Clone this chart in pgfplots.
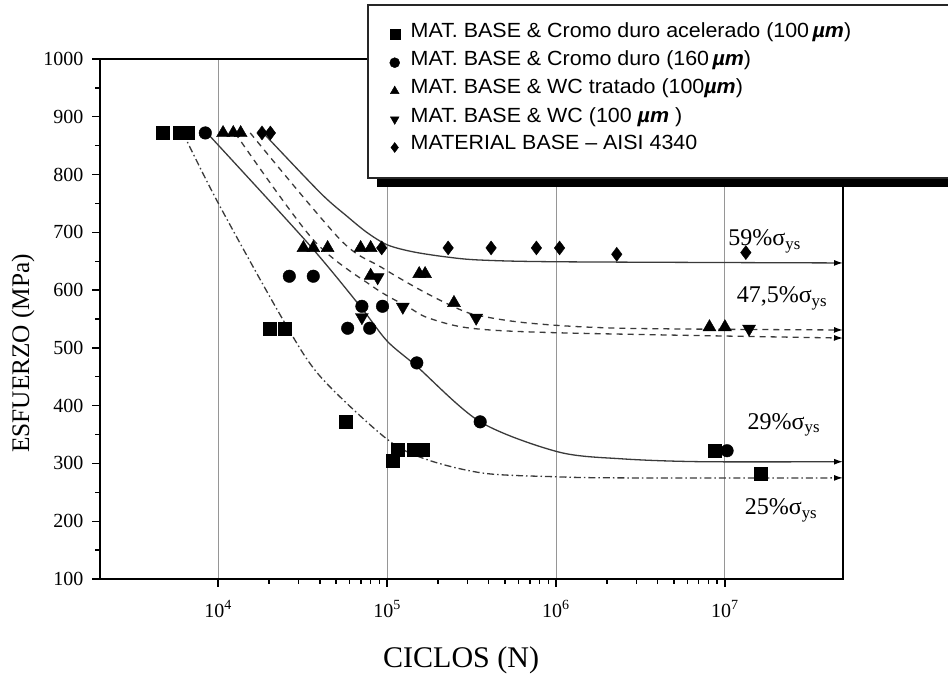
\documentclass[border=0pt]{standalone}
\usepackage{fontspec}
\setmainfont{Liberation Serif}
\newfontfamily\arial[FakeStretch=1.045]{Liberation Sans}
\usepackage{pgfplots}
\pgfplotsset{compat=1.18}
\usetikzlibrary{arrows.meta,shadows}

\definecolor{curv}{HTML}{3A3A3A}
\definecolor{gridc}{HTML}{969696}

\pgfplotsset{
  fitline/.style={curv,line width=1.3pt,smooth,tension=0.5,forget plot,
    -{Latex[length=9pt,width=6pt,black]}},
}

\begin{document}
\begin{tikzpicture}[x=1pt,y=1pt]
\begin{axis}[
  set layers,
  at={(100pt,96pt)}, anchor=south west,
  scale only axis, width=743pt, height=520pt,
  xmode=log, xmin=2000, xmax=5e7,
  ymin=100, ymax=1000,
  ytick={100,200,...,1000}, minor y tick num=1,
  xtick={1e4,1e5,1e6,1e7},
  xticklabels={10\textsuperscript{4},10\textsuperscript{5},10\textsuperscript{6},10\textsuperscript{7}},
  xtick pos=bottom, ytick pos=left,
  tick align=outside,
  major tick length=8pt, minor tick length=5pt,
  tick style={line width=1.4pt,black},
  axis line style={line width=2pt},
  xmajorgrids, major x grid style={gridc,line width=0.9pt},
  ticklabel style={font=\fontsize{20}{24}\selectfont},
  yticklabel style={xshift=-5pt},
  xticklabel style={yshift=-10pt},
  /pgf/number format/assume math mode=true,
  /pgf/number format/1000 sep={},
  xlabel={CICLOS (N)},
  ylabel={ESFUERZO (MPa)},
  xlabel style={font=\fontsize{30}{34}\selectfont,at={(axis description cs:0.486,-0.156)},anchor=center},
  ylabel style={font=\fontsize{25.3}{29}\selectfont,at={(axis description cs:-0.1036,0.434)},anchor=center},
  clip=false,
  legend cell align=left,
  legend image code/.code={
    \pgfpathmoveto{\pgfpoint{0pt}{0pt}}\pgfpathlineto{\pgfpoint{38pt}{0pt}}\pgfusepath{discard}
    \draw[#1,mark size=5pt] plot coordinates {(24pt,-4pt)};},
  legend style={at={(axis description cs:0.3641,1.1039)},anchor=north west,
    draw=none,fill=none,
    font=\arial\fontsize{20.5}{24}\selectfont,
    row sep=8pt,inner xsep=0pt,inner ysep=15pt},
]
% ---- experimental points ----
\addplot[only marks,mark=square*,mark size=6.5pt,black] coordinates {
  (4700,872) (5900,872) (6600,872) (20100,533) (24700,533) (57000,372)
  (108000,304) (116000,323) (144000,323) (163000,323) (8700000,322) (16200000,282)};
\addlegendentry{MAT. BASE \& Cromo duro acelerado (100\,{\bfseries\itshape µm})}
\addplot[only marks,mark=*,mark size=6.3pt,black] coordinates {
  (8400,872) (26400,624) (36600,624) (71000,572) (94000,572) (58500,534)
  (79000,534) (150000,474) (356000,372) (10300000,322)};
\addlegendentry{MAT. BASE \& Cromo duro (160\,{\bfseries\itshape µm})}
\addplot[only marks,mark=triangle*,mark size=7.5pt,black] coordinates {
  (10700,872) (12300,872) (13600,872) (32000,673) (36600,673) (44500,673)
  (69800,673) (80000,673) (80000,625) (155000,628) (168000,628)
  (249000,578) (8100000,536) (10000000,536)};
\addlegendentry{MAT. BASE \& WC tratado (100{\bfseries\itshape µm})}
\addplot[only marks,mark=triangle*,mark size=7.5pt,mark options={rotate=180},black] coordinates {
  (88000,622) (71000,553) (124000,571) (337000,552) (13900000,533)};
\addlegendentry{MAT. BASE \& WC (100 {\bfseries\itshape µm} )}
\addplot[only marks,mark=diamond*,mark size=7pt,black] coordinates {
  (18200,872) (20400,872) (93000,673) (230000,673) (413000,673) (766000,673)
  (1050000,673) (2290000,662) (13300000,665)};
\addlegendentry{MATERIAL BASE – AISI 4340}
% ---- fitted curves ----
\addplot[fitline,dash pattern=on 7pt off 3pt on 1.5pt off 3pt] coordinates {
  (6200,872) (10000,751) (24300,548) (40400,450) (101000,341) (175000,306)
  (376000,283) (980000,277) (2450000,275) (5e7,275)};
\addplot[fitline] coordinates {
  (8600,872) (33800,682) (69800,571) (100000,512) (150000,468) (356000,372)
  (1030000,320) (2450000,308) (7300000,303) (5e7,303)};
\addplot[fitline] coordinates {
  (18500,872) (40400,768) (58400,727) (76700,699) (101000,678) (144000,666)
  (230000,657) (360000,652) (1080000,649) (5e7,647)};
\addplot[fitline,dash pattern=on 6pt off 5pt] coordinates {
  (12600,872) (36600,687) (83400,605) (133000,571) (175000,552) (314000,534)
  (1080000,526) (5e7,517)};
\addplot[fitline,dash pattern=on 6pt off 5pt] coordinates {
  (15500,872) (53000,687) (92000,640) (158000,600) (249000,571) (337000,557)
  (686000,543) (2450000,534) (5e7,531)};
% ---- curve labels ----
\node[anchor=west,font=\fontsize{24}{28}\selectfont] at (axis cs:1.0e7,685) {59\%σ\textsubscript{ys}};
\node[anchor=west,font=\fontsize{24}{28}\selectfont] at (axis cs:1.12e7,586) {47,5\%σ\textsubscript{ys}};
\node[anchor=west,font=\fontsize{24}{28}\selectfont] at (axis cs:1.30e7,367) {29\%σ\textsubscript{ys}};
\node[anchor=west,font=\fontsize{24}{28}\selectfont] at (axis cs:1.25e7,219) {25\%σ\textsubscript{ys}};
% legend frame (white box with a black shadow), under the legend entries
\draw[black!85,line width=1.2pt,fill=white,
  general shadow={fill=black,shadow xshift=9pt,shadow yshift=-9pt}]
  (axis description cs:0.3607,1.1039) rectangle (axis description cs:1.25,0.7712);
\end{axis}
\pgfresetboundingbox
\useasboundingbox (0,0) rectangle (948,675);
\end{tikzpicture}
\end{document}
